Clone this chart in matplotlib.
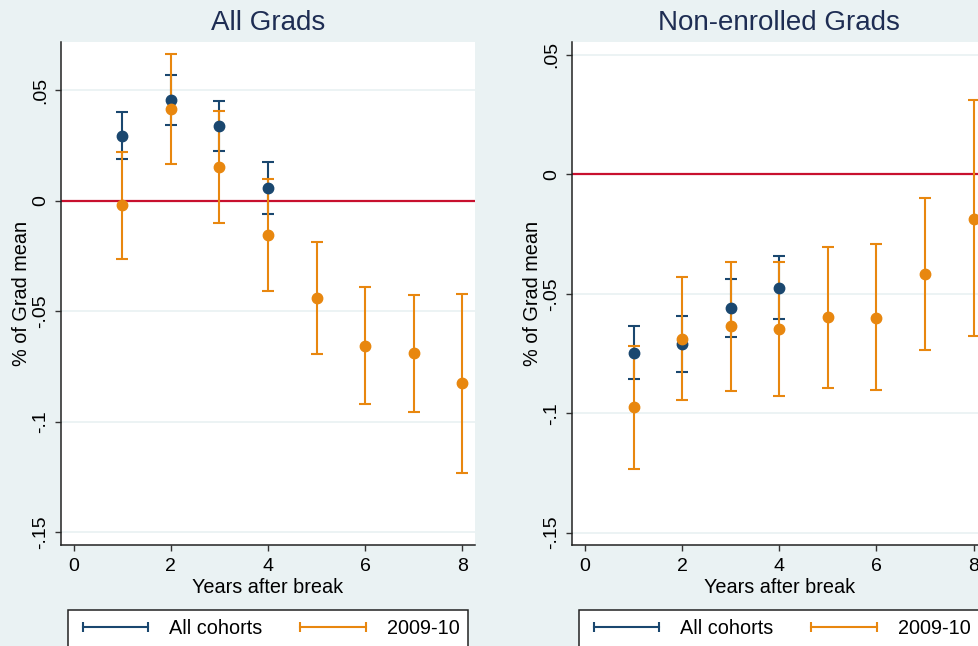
import matplotlib
matplotlib.use("Agg")
import matplotlib.pyplot as plt
from matplotlib.lines import Line2D

plt.rcParams['font.family'] = ['Liberation Sans', 'DejaVu Sans']

# data
years_all = [1, 2, 3, 4]
years_0910 = [1, 2, 3, 4, 5, 6, 7, 8]

# All Grads
all_est_l = [0.0293, 0.0456, 0.0338, 0.0059]
all_hi_l = [0.0400, 0.0567, 0.0452, 0.0175]
all_lo_l = [0.0189, 0.0342, 0.0226, -0.0059]
c09_est_l = [-0.0019, 0.0413, 0.0152, -0.0157, -0.0440, -0.0656, -0.0690, -0.0826]
c09_hi_l = [0.0222, 0.0662, 0.0406, 0.0097, -0.0185, -0.0392, -0.0427, -0.0420]
c09_lo_l = [-0.0264, 0.0168, -0.0099, -0.0410, -0.0692, -0.0921, -0.0955, -0.1232]

# Non-enrolled Grads
all_est_r = [-0.0748, -0.0710, -0.0559, -0.0476]
all_hi_r = [-0.0636, -0.0593, -0.0438, -0.0343]
all_lo_r = [-0.0859, -0.0826, -0.0680, -0.0605]
c09_est_r = [-0.0975, -0.0688, -0.0637, -0.0647, -0.0598, -0.0600, -0.0418, -0.0185]
c09_hi_r = [-0.0718, -0.0431, -0.0367, -0.0367, -0.0304, -0.0293, -0.0099, 0.0310]
c09_lo_r = [-0.1234, -0.0944, -0.0908, -0.0929, -0.0894, -0.0905, -0.0736, -0.0676]

titles = ["All Grads", "Non-enrolled Grads"]
series_names = ["All cohorts", "2009-10"]
yticks = [0.05, 0, -0.05, -0.1, -0.15]
ytick_labels = [".05", "0", "-.05", "-.1", "-.15"]
xticks = [0, 2, 4, 6, 8]

bg = '#eaf2f3'
navy = '#1a476f'
orange = '#e8870f'
red = '#c8102e'
title_col = '#1e2d53'

W, H = 979, 646
fig = plt.figure(figsize=(W / 100, H / 100), dpi=100, facecolor=bg)

panels = [
    (61, (all_est_l, all_hi_l, all_lo_l), (c09_est_l, c09_hi_l, c09_lo_l), (-0.1558, 0.0718), 68),
    (572.3, (all_est_r, all_hi_r, all_lo_r), (c09_est_r, c09_hi_r, c09_lo_r), (-0.1552, 0.0554), 579),
]

for i, (x0, s_all, s_09, ylim, leg_x) in enumerate(panels):
    ax = fig.add_axes([x0 / W, 1 - 545 / H, 414 / W, (545 - 42) / H])
    ax.set_facecolor('white')
    ax.set_xlim(-0.26, 8.26)
    ax.set_ylim(*ylim)

    for yv in yticks:
        ax.axhline(yv, color=bg, lw=1.3, zorder=0)
    ax.axhline(0, color=red, lw=1.6, zorder=1)

    for (est, hi, lo), xs, col in [(s_all, years_all, navy), (s_09, years_0910, orange)]:
        err = [[e - l for e, l in zip(est, lo)], [h - e for e, h in zip(est, hi)]]
        ax.errorbar(xs, est, yerr=err, fmt='none', ecolor=col, elinewidth=1.5,
                    capsize=4, capthick=1.5, zorder=2)
    ax.plot(years_all, s_all[0], 'o', color=navy, ms=7.5, zorder=3)
    ax.plot(years_0910, s_09[0], 'o', color=orange, ms=7.5, zorder=4)

    ax.set_yticks(yticks)
    ax.set_yticklabels(ytick_labels, rotation=90, va='center')
    ax.set_xticks(xticks)
    ax.tick_params(axis='both', labelsize=14, length=4.5, width=1, color='#333333')
    ax.tick_params(axis='y', pad=4)
    ax.tick_params(axis='x', pad=5)
    for side in ['top', 'right']:
        ax.spines[side].set_visible(False)
    for side in ['left', 'bottom']:
        ax.spines[side].set_color('#222222')
        ax.spines[side].set_linewidth(1.1)

    ax.set_xlabel("Years after break", fontsize=14.3, labelpad=2)
    ax.set_ylabel("% of Grad mean", fontsize=14.3, labelpad=1)
    ax.set_title(titles[i], fontsize=20, color=title_col, pad=9)

    handles = [
        Line2D([], [], color=navy, lw=1.5, marker='|', ms=7, mew=1.5),
        Line2D([], [], color=orange, lw=1.5, marker='|', ms=7, mew=1.5),
    ]
    leg = ax.legend(handles, series_names, ncol=2, numpoints=2, fontsize=14.3,
                    loc='upper left', bbox_to_anchor=(leg_x / W, 1 - 610 / H),
                    bbox_transform=fig.transFigure, frameon=True, fancybox=False,
                    handlelength=3.9, handletextpad=0.75, columnspacing=1.6,
                    borderpad=0.45, borderaxespad=0)
    fr = leg.get_frame()
    fr.set_edgecolor('#222222')
    fr.set_linewidth(1.1)
    fr.set_facecolor('white')
    fr.set_alpha(1)

fig.savefig("out.png", dpi=100, facecolor=bg)
